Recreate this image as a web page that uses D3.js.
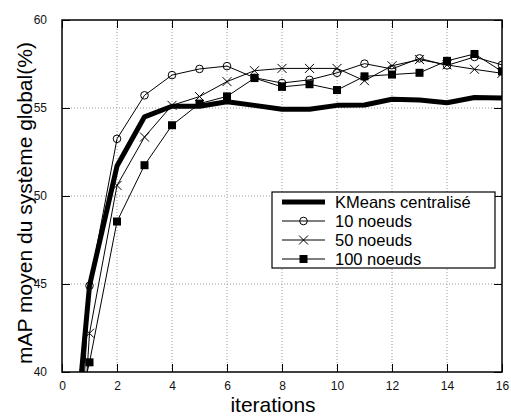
<!DOCTYPE html>
<html>
<head>
<meta charset="utf-8">
<script src="https://cdn.jsdelivr.net/npm/d3@7"></script>
<style>
  body { margin: 0; background: #fff; }
  svg { display: block; font-family: "Liberation Sans", Arial, sans-serif; }
</style>
</head>
<body>
<svg id="chart" width="511" height="417"></svg>
<script>
const iterations   = [0, 1, 2, 3, 4, 5, 6, 7, 8, 9, 10, 11, 12, 13, 14, 15, 16];
const kmeans       = [28, 44.9, 51.7, 54.5, 55.1, 55.1, 55.35, 55.15, 54.93, 54.93, 55.15, 55.17, 55.5, 55.45, 55.3, 55.6, 55.57];
const tenNodes     = [17, 44.9, 53.25, 55.72, 56.87, 57.22, 57.38, 56.72, 56.42, 56.6, 57.0, 57.52, 57.22, 57.82, 57.42, 57.9, 57.45];
const fiftyNodes   = [18, 42.2, 50.6, 53.35, 55.15, 55.65, 56.5, 57.12, 57.25, 57.25, 57.25, 56.55, 57.4, 57.75, 57.45, 57.2, 56.97];
const hundredNodes = [34, 40.55, 48.55, 51.75, 54.02, 55.25, 55.66, 56.7, 56.2, 56.35, 56.02, 56.8, 56.9, 57.0, 57.68, 58.07, 57.08];
const seriesNames  = ["KMeans centralisé", "10 noeuds", "50 noeuds", "100 noeuds"];
const xTicks = [0, 2, 4, 6, 8, 10, 12, 14, 16];
const yTicks = [40, 45, 50, 55, 60];
const xLabel = "iterations";
const yLabel = "mAP moyen du système global(%)";

const svg = d3.select("#chart");
const L = 62, R = 502, T = 20, B = 372;
const x = d3.scaleLinear().domain([0, 16]).range([L, R]);
const y = d3.scaleLinear().domain([40, 60]).range([B, T]);

svg.append("defs").append("clipPath").attr("id", "clip")
  .append("rect").attr("x", L).attr("y", T).attr("width", R - L).attr("height", B - T);

// grid
const grid = svg.append("g");
xTicks.filter(t => t > 0 && t < 16).forEach(t => {
  grid.append("line").attr("x1", x(t)).attr("x2", x(t)).attr("y1", T).attr("y2", B)
    .attr("stroke", "#999").attr("stroke-width", 1).attr("stroke-dasharray", "1,2");
});
yTicks.filter(t => t > 40 && t < 60).forEach(t => {
  grid.append("line").attr("x1", L).attr("x2", R).attr("y1", y(t)).attr("y2", y(t))
    .attr("stroke", "#999").attr("stroke-width", 1).attr("stroke-dasharray", "1,2");
});

// axes
const axB = svg.append("g").attr("transform", `translate(0,${B})`)
  .call(d3.axisBottom(x).tickValues(xTicks).tickSize(-8).tickPadding(9.5).tickFormat(d3.format("d")));
const axT = svg.append("g").attr("transform", `translate(0,${T})`)
  .call(d3.axisTop(x).tickValues(xTicks).tickSize(-8).tickFormat(""));
const axL = svg.append("g").attr("transform", `translate(${L},0)`)
  .call(d3.axisLeft(y).tickValues(yTicks).tickSize(-8).tickPadding(15).tickFormat(d3.format("d")));
const axR = svg.append("g").attr("transform", `translate(${R},0)`)
  .call(d3.axisRight(y).tickValues(yTicks).tickSize(-8).tickFormat(""));
[axB, axT, axL, axR].forEach(a => {
  a.select(".domain").remove();
  a.selectAll(".tick line").attr("stroke", "#000").attr("stroke-width", 1);
  a.selectAll("text").attr("font-size", 12).attr("fill", "#111")
    .attr("font-family", "'Liberation Sans', Arial, sans-serif");
});
svg.append("rect").attr("x", L).attr("y", T).attr("width", R - L).attr("height", B - T)
  .attr("fill", "none").attr("stroke", "#000").attr("stroke-width", 1.5);

// series
const plot = svg.append("g").attr("clip-path", "url(#clip)");
const line = d3.line().x((d, i) => x(iterations[i])).y(d => y(d));
plot.append("path").datum(kmeans).attr("d", line).attr("fill", "none")
  .attr("stroke", "#000").attr("stroke-width", 5).attr("stroke-linejoin", "round");
[tenNodes, fiftyNodes, hundredNodes].forEach(s => {
  plot.append("path").datum(s).attr("d", line).attr("fill", "none")
    .attr("stroke", "#000").attr("stroke-width", 1);
});

function circleMark(g, cx, cy) {
  g.append("circle").attr("cx", cx).attr("cy", cy).attr("r", 3.8)
    .attr("fill", "none").attr("stroke", "#000").attr("stroke-width", 1);
}
function crossMark(g, cx, cy) {
  const s = 4.5;
  g.append("path").attr("d", `M${cx - s},${cy - s}L${cx + s},${cy + s}M${cx - s},${cy + s}L${cx + s},${cy - s}`)
    .attr("stroke", "#000").attr("stroke-width", 1);
}
function squareMark(g, cx, cy) {
  g.append("rect").attr("x", cx - 4).attr("y", cy - 4).attr("width", 8).attr("height", 8).attr("fill", "#000");
}
tenNodes.forEach((v, i) => circleMark(plot, x(iterations[i]), y(v)));
fiftyNodes.forEach((v, i) => crossMark(plot, x(iterations[i]), y(v)));
hundredNodes.forEach((v, i) => squareMark(plot, x(iterations[i]), y(v)));

// legend
const lg = svg.append("g");
lg.append("rect").attr("x", 272).attr("y", 192).attr("width", 223).attr("height", 76)
  .attr("fill", "#fff").attr("stroke", "#000").attr("stroke-width", 1.2);
const rowY = [202, 221, 240, 259];
const markers = [null, circleMark, crossMark, squareMark];
seriesNames.forEach((name, i) => {
  const yy = rowY[i];
  lg.append("line").attr("x1", 282).attr("x2", 325).attr("y1", yy).attr("y2", yy)
    .attr("stroke", "#000").attr("stroke-width", i === 0 ? 5 : 1);
  if (markers[i]) markers[i](lg, 303.5, yy);
  lg.append("text").attr("x", 335).attr("y", yy).attr("dy", "0.36em")
    .attr("font-size", 16.5).attr("fill", "#000").text(name);
});

// axis titles
svg.append("text").attr("x", 273).attr("y", 412).attr("text-anchor", "middle")
  .attr("font-size", 21).attr("fill", "#000").text(xLabel);
svg.append("text").attr("transform", "translate(32,203) rotate(-90)").attr("text-anchor", "middle")
  .attr("font-size", 21).attr("fill", "#000").text(yLabel);
</script>
</body>
</html>
